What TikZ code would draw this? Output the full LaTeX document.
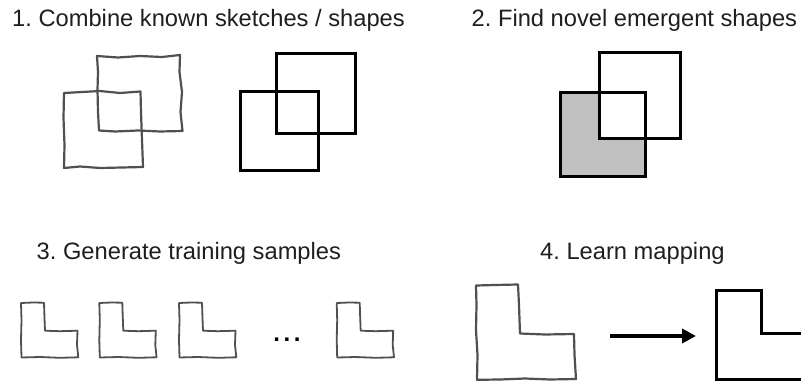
\documentclass[tikz,border=0pt]{standalone}
\usepackage{fontspec}
\setmainfont{Liberation Sans}
\usetikzlibrary{arrows.meta}
\frenchspacing
\definecolor{sk}{HTML}{505050}
\definecolor{tx}{HTML}{1E1E1E}
\definecolor{fillg}{HTML}{C0C0C0}
\tikzset{
  sketch/.style={draw=sk, line width=2.2pt, line join=round, line cap=round},
  clean/.style={draw=black, line width=3pt, line join=miter},
  title/.style={anchor=base west, inner sep=0pt, text=tx, font=\fontsize{23.7}{28}\selectfont},
}
\begin{document}
\begin{tikzpicture}[x=1pt,y=-1pt]
\useasboundingbox (0,0) rectangle (801,385);
\clip (0,0) rectangle (801,385);
% titles
\node[title] (t1) at (12,26.5) {1. Combine known sketches / shapes};
\node[title] (t2) at (471.5,26.5) {2. Find novel emergent shapes};
\node[title] (t3) at (36.5,259.5) {3. Generate training samples};
\node[title] (t4) at (540,259.5) {4. Learn mapping};
% panel 1: sketched squares
\draw[sketch] (97,56) -- (118,57.5) -- (140,56) -- (162,57) -- (180,55) -- (179.5,72) -- (182,92) -- (180.5,112) -- (182.5,131)
  -- (160,131.5) -- (138,130.5) -- (115,131.5) -- (99,130.5) -- (98,112) -- (97.5,90) -- (98,72) -- cycle;
\draw[sketch] (64,93) -- (82,92) -- (100,91) -- (120,93) -- (140.5,91.5) -- (141,112) -- (142,140) -- (143,167)
  -- (122,167.5) -- (100,168) -- (80,166.5) -- (64,168) -- (64.5,145) -- (63.5,118) -- cycle;
% panel 1: clean squares
\draw[clean] (276.7,54) rectangle (355.7,133.3);
\draw[clean] (240,91.7) rectangle (318.3,171);
% panel 2
\fill[fillg] (560,92.3) rectangle (645,176.7);
\fill[white] (599.3,92.3) rectangle (645,138.3);
\draw[clean] (599.3,52.7) rectangle (680,138.3);
\draw[clean] (560,92.3) rectangle (645,176.7);
% panel 3: training samples
\foreach \dx in {0,78.3,158,315.7}{
  \draw[sketch, line width=1.8pt, xshift=\dx] (21,303) -- (33,302.5) -- (44,302.7) -- (44.5,318) -- (45,330.7)
    -- (60,331.2) -- (77.5,330.7) -- (77,345) -- (78.3,357.3) -- (60,357.8) -- (40,357) -- (21.5,357.5)
    -- (21,340) -- (21.5,320) -- cycle;
}
\node[anchor=base, inner sep=0pt, font=\fontsize{24}{28}\selectfont\bfseries] (dots) at (287,341) {.\hspace{3.6pt}.\hspace{3.6pt}.};
% panel 4
\draw[sketch] (476,285.5) -- (495,285) -- (518,284.5) -- (519,305) -- (520,333.5) -- (545,334.5) -- (574,334)
  -- (574.5,355) -- (576,379) -- (550,379.5) -- (525,378.5) -- (500,379.5) -- (477,379.8) -- (477.5,355) -- (476,330) -- (476.5,305) -- cycle;
\coordinate (a1) at (610,336);
\coordinate (a2) at (696,336);
\draw[black, line width=3.6pt, -{Triangle[length=14pt,width=14pt]}] (a1) -- (a2);
\draw[clean] (716.7,290) -- (761.7,290) -- (761.7,333.3) -- (810,333.3) -- (810,379.3) -- (716.7,379.3) -- cycle;
\end{tikzpicture}
\end{document}
